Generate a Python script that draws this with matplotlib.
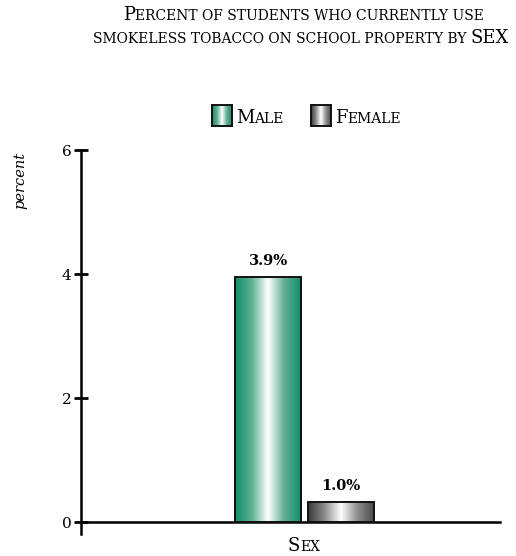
import matplotlib as mpl
mpl.use("Agg")
import matplotlib.pyplot as plt
import numpy as np
from matplotlib.colors import LinearSegmentedColormap
from matplotlib.patches import Rectangle

mpl.rcParams.update({
    "font.family": "serif",
    "font.serif": ["DejaVu Serif", "Liberation Serif"],
})

# data
categories = ["Male", "Female"]
values = [3.95, 0.32]
value_labels = ["3.9%", "1.0%"]
yticks = [0, 2, 4, 6]

green = LinearSegmentedColormap.from_list("g", ["#10906a", "#5cae91", "#ffffff", "#62ad92", "#12906b"])
gray = LinearSegmentedColormap.from_list("k", ["#383838", "#8c8c8c", "#ffffff", "#8e8e8e", "#4a4a4a"])
cmaps = [green, gray]

W, H = 516, 556
fig = plt.figure(figsize=(W / 100, H / 100), dpi=100)
renderer = fig.canvas.get_renderer()


def text_width(s, size, **kw):
    # advance width incl. spaces: measure between two guard chars
    t1 = fig.text(0, 0, "x" + s + "x", fontsize=size, **kw)
    t2 = fig.text(0, 0, "xx", fontsize=size, **kw)
    w = t1.get_window_extent(renderer).width - t2.get_window_extent(renderer).width
    t1.remove()
    t2.remove()
    return w


def smallcaps(x_px, y_px, text, big, small, ha="center", **kw):
    segs = []
    for ch in text:
        sz = big if ch.isupper() else small
        if segs and segs[-1][1] == sz:
            segs[-1][0] += ch.upper()
        else:
            segs.append([ch.upper(), sz])
    widths = [text_width(s, sz, **kw) for s, sz in segs]
    x = x_px - sum(widths) / 2 if ha == "center" else x_px
    for (s, sz), w in zip(segs, widths):
        fig.text(x / W, 1 - y_px / H, s, fontsize=sz, va="baseline", ha="left", **kw)
        x += w


# title
smallcaps(303, 20, "Percent of students who currently use", 13, 10)
smallcaps(301, 43, "smokeless tobacco on school property by SEX", 13, 10)

# axes: y spine at x=81, 0 at y=522, 6 at y=150
ybot = -0.19
px_per_unit = (522 - 150) / 6
ax_bottom = 522 + (0 - ybot) * px_per_unit
ax = fig.add_axes([81 / W, 1 - ax_bottom / H, (500 - 81) / W, (ax_bottom - 150) / H])
ax.spines["top"].set_visible(False)
ax.spines["right"].set_visible(False)
ax.spines["bottom"].set_position(("data", 0))
for sp in ("left", "bottom"):
    ax.spines[sp].set_linewidth(1.8)
ax.set_xticks([])
ax.set_yticks(yticks)
ax.tick_params(axis="y", direction="inout", length=10, width=2, pad=2, labelsize=11)

width = 0.4
offsets = [-0.22, 0.22]
grad = np.linspace(0, 1, 256).reshape(1, -1)
for off, v, lab, cm in zip(offsets, values, value_labels, cmaps):
    x0 = off - width / 2
    rect = Rectangle((x0, 0), width, v, facecolor="none", edgecolor="#111111", linewidth=1.4, zorder=3)
    ax.add_patch(rect)
    im = ax.imshow(grad, cmap=cm, aspect="auto", extent=(x0, x0 + width, 0, v), zorder=2)
    im.set_clip_path(rect)
    ax.annotate(lab, (off, v), xytext=(0, 9), textcoords="offset points",
                ha="center", va="baseline", fontsize=10.5, fontweight="bold")
ax.set_xlim(-1.355, 1.185)
ax.set_ylim(ybot, 6)

# x label
smallcaps(304, 551, "Sex", 13, 10)

# y label
fig.text(20 / W, 1 - 180 / H, "percent", rotation=90, style="italic", fontsize=10.5,
         ha="center", va="center")

# legend
lx = [212, 311]
for x, cm, name in zip(lx, cmaps, categories):
    lax = fig.add_axes([x / W, 1 - 126 / H, 20 / W, 21 / H])
    lax.imshow(grad, cmap=cm, aspect="auto")
    lax.set_xticks([])
    lax.set_yticks([])
    for sp in lax.spines.values():
        sp.set_linewidth(1.4)
        sp.set_color("#111111")
    smallcaps(x + 24, 123, name, 13, 10, ha="left")

fig.savefig("out.png", dpi=100)
